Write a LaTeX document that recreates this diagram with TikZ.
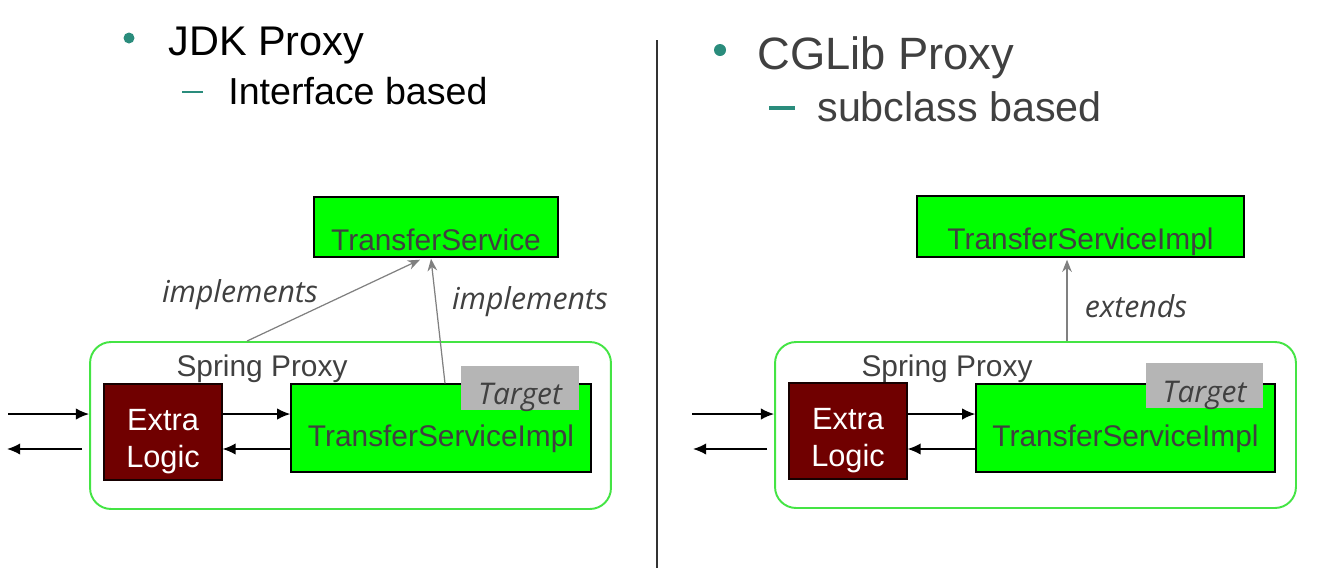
\documentclass[tikz,border=0pt]{standalone}
\usepackage{fontspec}
\setmainfont{Liberation Sans}
\newfontfamily\labelfont{Open Sans}
\usetikzlibrary{arrows.meta}
\definecolor{boxgreen}{HTML}{00FF00}
\definecolor{proxygreen}{HTML}{44E444}
\definecolor{logicred}{HTML}{700000}
\definecolor{targetgray}{HTML}{B5B5B5}
\definecolor{textgray}{HTML}{404040}
\definecolor{bulletteal}{HTML}{2A8C7C}
\definecolor{linkgray}{HTML}{808080}
\begin{document}
\begin{tikzpicture}[x=0.02cm,y=-0.02cm,>={Latex[length=7.5pt,width=6.5pt]}]
\tikzset{
  box/.style={draw=black,line width=0.8pt,fill=boxgreen,inner sep=0pt,text=textgray,font=\fontsize{17}{21.5}\selectfont},
  proxybox/.style={draw=proxygreen,line width=1.1pt,rounded corners=0.42cm,inner sep=0pt},
  logic/.style={draw=black!80!logicred,line width=0.6pt,fill=logicred,inner sep=0pt},
  logictext/.style={text=white,align=center,inner sep=0pt,yshift=-0.19cm,font=\fontsize{17.5}{21.5}\selectfont},
  target/.style={fill=targetgray,inner sep=0pt,text=textgray,font=\labelfont\itshape\fontsize{17}{20}\selectfont},
  plain/.style={text=textgray,inner sep=0pt,font=\fontsize{17}{21.5}\selectfont},
  linklabel/.style={text=textgray,inner sep=0pt,font=\labelfont\itshape\fontsize{17.2}{20}\selectfont},
  flow/.style={black,line width=0.9pt},
  link/.style={linkgray,line width=0.7pt,-{Stealth[length=7pt,width=5.5pt]}}
}
\useasboundingbox (0,0) rectangle (1334,576);

% titles
\fill[bulletteal] (129,38) circle (5.5);
\node[anchor=base west,inner sep=0pt,font=\fontsize{23.6}{28}\selectfont] (jdk) at (168,55) {JDK Proxy};
\draw[bulletteal,line width=1.4pt] (182,92) -- (203,92);
\node[anchor=base west,inner sep=0pt,font=\fontsize{21.4}{26}\selectfont] (jdkSub) at (228,104) {Interface based};
\fill[bulletteal] (720,50) circle (6);
\node[anchor=base west,inner sep=0pt,text=textgray,font=\fontsize{25.8}{30}\selectfont] (cglib) at (757,69) {CGLib Proxy};
\draw[bulletteal,line width=1.8pt] (769,108) -- (795,108);
\node[anchor=base west,inner sep=0pt,text=textgray,font=\fontsize{23.5}{28}\selectfont] (cglibSub) at (817,121) {subclass based};
\draw[black!80,line width=0.7pt] (657,40) -- (657,568);

% JDK proxy
\node[box,minimum width=4.88cm,text height=1.06cm,text depth=0.14cm] (iface) at (436,227) {TransferService};
\node[proxybox,minimum width=10.42cm,minimum height=3.34cm] (proxyL) at (350.5,425.5) {};
\node[plain] (proxyLabelL) at (262,369) {Spring Proxy};
\node[logic,minimum width=2.36cm,minimum height=1.92cm,label={[logictext]center:{Extra\\Logic}}] (logicL) at (163,432) {};
\node[box,minimum width=6cm,text height=1.24cm,text depth=0.52cm] (implL) at (441,428) {TransferServiceImpl};
\node[target,minimum width=2.36cm,text height=0.76cm,text depth=0.12cm] (targetL) at (520,388) {Target};

\coordinate (inLs) at (8,414);
\coordinate (outLs) at (82,449);
\coordinate (outLe) at (7,449);
\draw[->,flow] (inLs) -- (inLs -| proxyL.west);
\draw[->,flow] (outLs) -- (outLe);
\draw[->,flow] (logicL.east |- inLs) -- (implL.west |- inLs);
\draw[->,flow] (implL.west |- outLs) -- (logicL.east |- outLs);

\draw[link] ([xshift=-2.07cm]proxyL.north) -- ([xshift=-0.32cm,yshift=-0.04cm]iface.south);
\draw[link] ([xshift=0.08cm]implL.north) -- ([xshift=-0.1cm,yshift=-0.02cm]iface.south);
\node[linklabel] (implementsA) at (240,295) {implements};
\node[linklabel] (implementsB) at (530,302) {implements};

% CGLib proxy
\node[box,minimum width=6.54cm,text height=1.06cm,text depth=0.16cm] (superR) at (1080.5,226.5) {TransferServiceImpl};
\node[proxybox,minimum width=10.42cm,minimum height=3.32cm] (proxyR) at (1035.5,425) {};
\node[plain] (proxyLabelR) at (947,369) {Spring Proxy};
\node[logic,minimum width=2.36cm,minimum height=1.92cm,label={[logictext]center:{Extra\\Logic}}] (logicR) at (848,431) {};
\node[box,minimum width=5.98cm,text height=1.24cm,text depth=0.52cm] (implR) at (1125.5,428) {TransferServiceImpl};
\node[target,minimum width=2.34cm,text height=0.78cm,text depth=0.12cm] (targetR) at (1204.5,385.5) {Target};

\coordinate (inRs) at (692,414);
\coordinate (outRs) at (767,449);
\coordinate (outRe) at (693,449);
\draw[->,flow] (inRs) -- (inRs -| proxyR.west);
\draw[->,flow] (outRs) -- (outRe);
\draw[->,flow] (logicR.east |- inRs) -- (implR.west |- inRs);
\draw[->,flow] (implR.west |- outRs) -- (logicR.east |- outRs);

\coordinate (extTip) at ([xshift=-0.27cm,yshift=-0.04cm]superR.south);
\draw[link] (extTip |- proxyR.north) -- (extTip);
\node[linklabel] (extendsLabel) at (1136,306) {extends};
\end{tikzpicture}
\end{document}
